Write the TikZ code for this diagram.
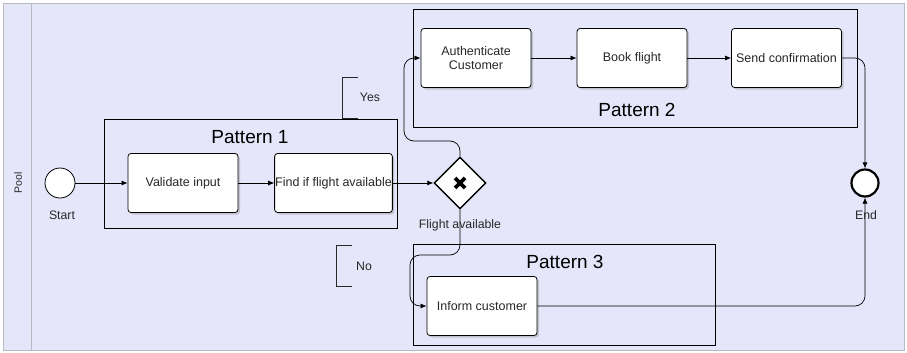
\documentclass[tikz,border=0pt]{standalone}
\usepackage{fontspec}
\setmainfont{Liberation Sans}
\usetikzlibrary{shapes.geometric,arrows.meta,shadows}

\definecolor{poolbg}{RGB}{230,230,250}
\definecolor{poolline}{RGB}{185,185,195}
\definecolor{labeltext}{RGB}{40,40,40}

\tikzset{
    task/.style={draw, rounded corners=3pt, fill=white, line width=0.8pt,
        minimum width=110pt, minimum height=59pt, inner sep=0.5pt, align=center,
        font=\fontsize{12.5}{14.5}\selectfont, text=labeltext,
        drop shadow={opacity=0.35, shadow xshift=2pt, shadow yshift=-2pt}},
    patternbox/.style={draw, line width=0.8pt},
    patternlabel/.style={font=\fontsize{19}{21}\selectfont},
    flow/.style={line width=0.7pt, -{Latex[length=6pt,width=5pt]}, rounded corners=10pt},
    evtlabel/.style={font=\fontsize{12.3}{14}\selectfont, text=labeltext}
}

\begin{document}
\begin{tikzpicture}[x=1pt,y=-1pt]
    \useasboundingbox (0,0) rectangle (907,353);

    % 泳池
    \draw[poolline, fill=poolbg] (3,3) rectangle (904,350);
    \draw[poolline] (31,3) -- (31,350);
    \node[rotate=90, font=\fontsize{10.5}{12}\selectfont, text=labeltext] (pool) at (18,183) {Pool};

    % 模式框
    \draw[patternbox] (104,119) rectangle (397,228);
    \node[patternlabel] (p1) at (250,137) {Pattern 1};
    \draw[patternbox] (413,9) rectangle (857,127);
    \node[patternlabel] (p2) at (637,110) {Pattern 2};
    \draw[patternbox] (413,244) rectangle (715,345);
    \node[patternlabel] (p3) at (565,262) {Pattern 3};

    % 事件
    \node[draw, circle, fill=white, line width=0.8pt, minimum size=30pt, inner sep=0pt] (start) at (60,183) {};
    \node[evtlabel] (startlbl) at (62,215) {Start};
    \node[draw, circle, fill=white, line width=2.2pt, minimum size=27pt, inner sep=0pt] (end) at (865,183) {};

    % 任务
    \node[task] (validate) at (183,183) {Validate input};
    \node[task, minimum width=117pt] (find) at (333.5,183) {Find if flight available};
    \node[task] (auth) at (476,58) {Authenticate\\Customer};
    \node[task] (book) at (632,58) {Book flight};
    \node[task] (send) at (786.5,58) {Send confirmation};
    \node[task] (inform) at (482,306) {Inform customer};

    % 网关
    \node[draw, diamond, fill=white, line width=1.4pt, minimum size=52pt, inner sep=0pt] (gw) at (460,183) {};
    \draw[line width=3.8pt] (455,178) -- (465,188);
    \draw[line width=3.8pt] (465,178) -- (455,188);

    % 连线
    \coordinate (yesbend) at (404,141);
    \coordinate (nobend) at (410,255);
    \draw[flow] (start) -- (validate);
    \draw[flow] (validate) -- (find);
    \draw[flow] (find) -- (gw);
    \draw[flow] (gw.north) |- (yesbend) |- (auth.west);
    \draw[flow] (gw.south) |- (nobend) |- (inform.west);
    \draw[flow] (auth) -- (book);
    \draw[flow] (book) -- (send);
    \draw[flow] (send.east) -| (end.north);
    \draw[flow] (inform.east) -| (end.south);

    \node[evtlabel] (endlbl) at (866,215) {End};
    \node[evtlabel] (gwlbl) at (460,225) {Flight available};

    % 注释
    \draw[labeltext, line width=0.7pt] (358,77) -- (342,77) -- (342,118) -- (358,118);
    \node[evtlabel] (yes) at (370,97) {Yes};
    \draw[labeltext, line width=0.7pt] (352,245) -- (336,245) -- (336,286) -- (352,286);
    \node[evtlabel] (no) at (364,266) {No};
\end{tikzpicture}
\end{document}
